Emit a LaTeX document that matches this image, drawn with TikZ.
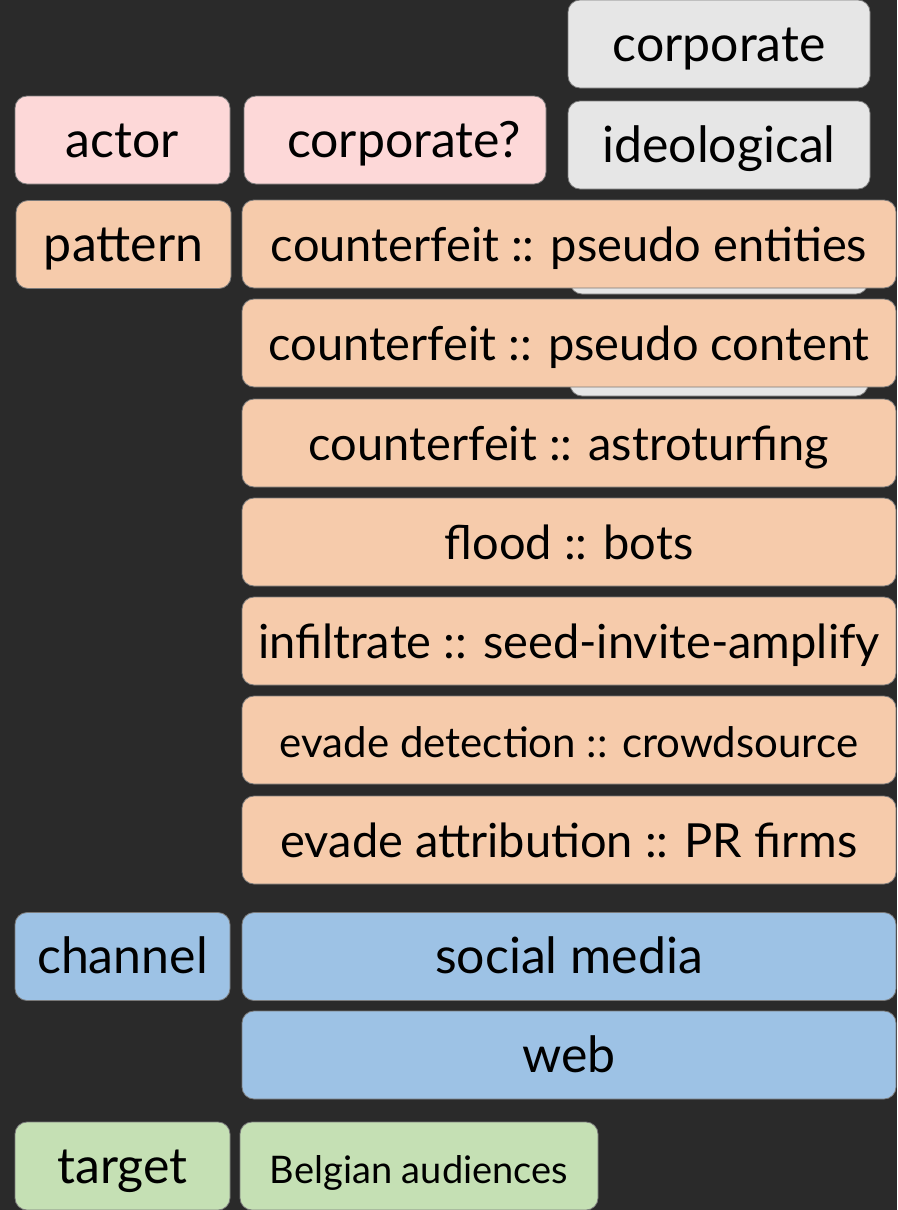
\documentclass[tikz,border=0pt]{standalone}
\usepackage{fontspec}
\setmainfont{Lato}
\definecolor{bg}{HTML}{2A2A2A}
\definecolor{pinkc}{HTML}{FDD8D8}
\definecolor{peachc}{HTML}{F6CBAB}
\definecolor{grayc}{HTML}{E6E6E6}
\definecolor{bluec}{HTML}{9DC2E5}
\definecolor{greenc}{HTML}{C5E0B4}
\definecolor{edgec}{HTML}{7A7A7A}
\tikzset{
  box/.style={rectangle, rounded corners=12pt, draw=edgec, line width=0.8pt,
    inner sep=0pt, text=black, font=\fontsize{47}{54}\selectfont,
    text height=40pt, text depth=6pt},
  pinkbox/.style={box, fill=pinkc},
  peachbox/.style={box, fill=peachc},
  graybox/.style={box, fill=grayc},
  bluebox/.style={box, fill=bluec},
  greenbox/.style={box, fill=greenc},
  fitbox/.style 2 args={minimum width=#1pt, minimum height=#2pt},
  bigtext/.style={font=\fontsize{50}{56}\selectfont},
}
\begin{document}
\begin{tikzpicture}[x=1pt,y=-1pt]
\fill[bg] (0,0) rectangle (897,1210);
\useasboundingbox (0,0) rectangle (897,1210);
% gray column (partly hidden)
\node[graybox, bigtext, fitbox={302}{88}] (g1) at (719,44) {corporate};
\node[graybox, bigtext, fitbox={302}{88}] (g2) at (719,145) {ideological};
\node[graybox, fitbox={298}{88}] (g3) at (719,250) {};
\node[graybox, fitbox={298}{88}] (g4) at (719,352) {};
% actor row
\node[pinkbox, bigtext, fitbox={215}{88}] (actor) at (122.5,140) {actor};
\node[pinkbox, bigtext, fitbox={302}{88}] (corp) at (395,140) {\hspace*{18pt}corporate?};
% pattern
\node[peachbox, bigtext, fitbox={215}{88}] (pattern) at (123.5,244.5) {pattern};
\node[peachbox, fitbox={654}{88}] (p1) at (569,244) {counterfeit :: pseudo entities};
\node[peachbox, fitbox={654}{88}] (p2) at (569,343) {counterfeit :: pseudo content};
\node[peachbox, fitbox={654}{88}] (p3) at (569,443) {counterfeit :: astroturfing};
\node[peachbox, fitbox={654}{88}] (p4) at (569,542) {flood :: bots};
\node[peachbox, fitbox={654}{88}] (p5) at (569,641) {infiltrate :: seed-invite-amplify};
\node[peachbox, fitbox={654}{88}, font=\fontsize{42}{48}\selectfont] (p6) at (569,740) {evade detection :: crowdsource};
\node[peachbox, fitbox={654}{88}] (p7) at (569,840) {evade attribution :: PR firms};
% channel
\node[bluebox, bigtext, fitbox={215}{88}] (channel) at (122.5,956.5) {channel};
\node[bluebox, bigtext, fitbox={654}{88}] (c1) at (569,956.5) {social media};
\node[bluebox, bigtext, fitbox={654}{88}] (c2) at (569,1055) {web};
% target
\node[greenbox, bigtext, fitbox={215}{88}] (target) at (122.5,1166) {target};
\node[greenbox, fitbox={358}{88}, font=\fontsize{38}{44}\selectfont] (t1) at (419,1166) {Belgian audiences};
\end{tikzpicture}
\end{document}
